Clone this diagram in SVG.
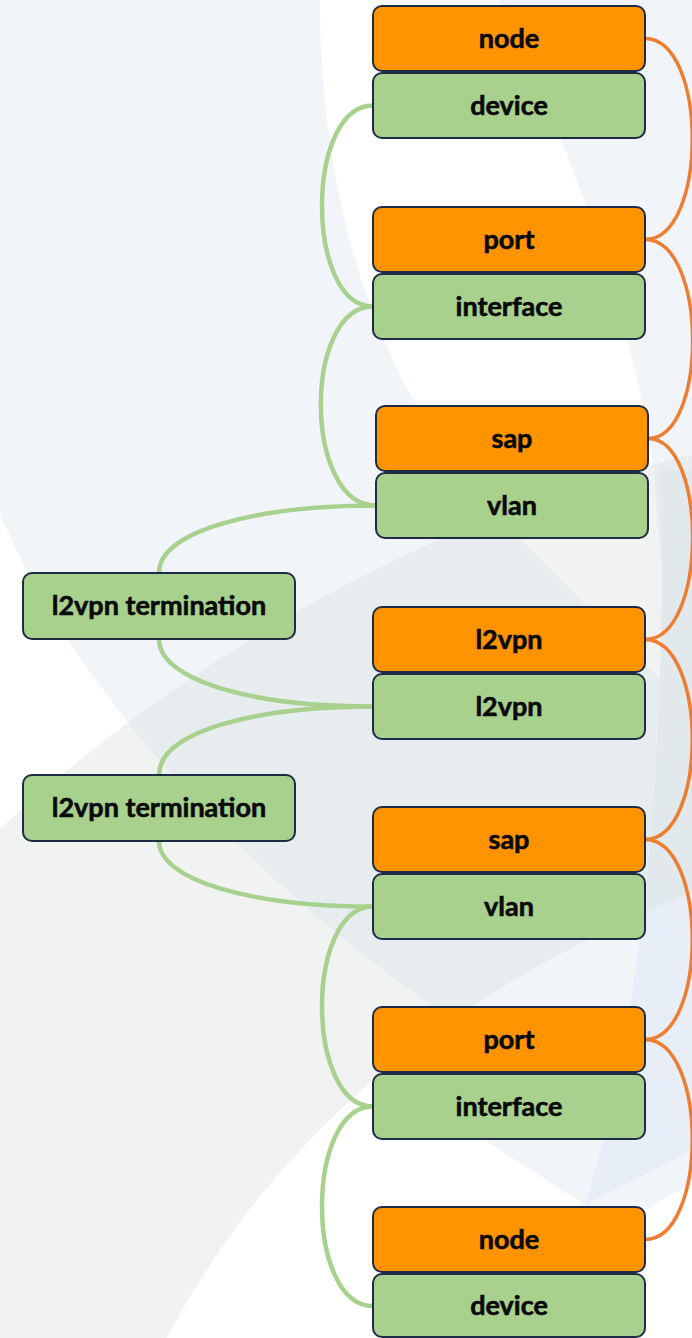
<svg xmlns="http://www.w3.org/2000/svg" width="692" height="1338" viewBox="0 0 692 1338">
<style>
.bg-blue{fill:#f1f5fa}
.bg-white{fill:#ffffff}
.bg-swoosh{fill:#d9e2df;fill-opacity:0.4}
.bg-right{fill:#e7eef7}
.box{stroke:#1e2b45;stroke-width:2}
.orange{fill:#ff9300}
.green{fill:#a9d18e}
.lbl{font-family:Lato,"Liberation Sans",Arial,sans-serif;font-weight:700;font-size:27px;fill:#0a0a0a;stroke:#0a0a0a;stroke-width:0.6;text-anchor:middle}
.cg{fill:none;stroke:#a9d18e;stroke-width:4.5}
.co{fill:none;stroke:#ed7d31;stroke-width:3.5}
</style>
<g id="background">
<rect class="bg-blue" x="0" y="0" width="692" height="1338"/>
<path class="bg-white" d="M320,0 L499,0 C560,125 630,300 653,466 C662,560 668,640 672,690 C640,660 612,632 587,606 C520,540 460,480 419,410 C360,310 320,170 320,0 Z"/>
<path class="bg-white" d="M0,513 C70,685 250,880 430,1004 C405,1020 385,1045 371,1067 L582,1203 L556,1338 L0,1338 Z"/>
<path class="bg-white" d="M600,1338 L640,1215 C660,1200 680,1190 692,1185 L692,1338 Z"/>
<path class="bg-right" d="M660,470 C668,700 650,1000 585,1205 L692,1150 L692,470 Z"/>
<path class="bg-swoosh" d="M0,829 C150,690 400,520 692,455 L692,893 C400,1010 250,1180 167,1338 L0,1338 Z"/>
</g>
<g id="connectors">
<path class="cg" d="M373,105.5 C305,105.5 305,306.5 373,306.5"/>
<path class="cg" d="M373,306.5 C303,306.5 303,505.5 376,505.5"/>
<path class="cg" d="M376,505.5 C260,505.5 159,530 159,573"/>
<path class="cg" d="M159,639 C159,680 250,706.5 373,706.5"/>
<path class="cg" d="M373,706.5 C260,706.5 159,730 159,775"/>
<path class="cg" d="M159,841 C159,880 250,906.5 373,906.5"/>
<path class="cg" d="M373,906.5 C305,906.5 305,1106.5 373,1106.5"/>
<path class="cg" d="M373,1106.5 C305,1106.5 305,1306 373,1306"/>
<path class="co" d="M645,38.5 C708,38.5 708,239.5 645,239.5"/>
<path class="co" d="M645,239.5 C708,239.5 708,438.5 648,438.5"/>
<path class="co" d="M648,438.5 C708,438.5 708,639.5 645,639.5"/>
<path class="co" d="M645,639.5 C708,639.5 708,839.5 645,839.5"/>
<path class="co" d="M645,839.5 C708,839.5 708,1039.5 645,1039.5"/>
<path class="co" d="M645,1039.5 C708,1039.5 708,1239.5 645,1239.5"/>
</g>
<g id="node-node-top"><rect class="box orange" x="373" y="6" width="272" height="65" rx="9"/><text class="lbl" x="509" y="47.5">node</text></g>
<g id="node-device-top"><rect class="box green" x="373" y="73" width="272" height="65" rx="9"/><text class="lbl" x="509" y="114.5">device</text></g>
<g id="node-port-top"><rect class="box orange" x="373" y="207" width="272" height="65" rx="9"/><text class="lbl" x="509" y="248.5">port</text></g>
<g id="node-interface-top"><rect class="box green" x="373" y="274" width="272" height="65" rx="9"/><text class="lbl" x="509" y="315.5">interface</text></g>
<g id="node-sap-top"><rect class="box orange" x="376" y="406" width="272" height="65" rx="9"/><text class="lbl" x="512" y="447.5">sap</text></g>
<g id="node-vlan-top"><rect class="box green" x="376" y="473" width="272" height="65" rx="9"/><text class="lbl" x="512" y="514.5">vlan</text></g>
<g id="node-l2vpn-orange"><rect class="box orange" x="373" y="607" width="272" height="65" rx="9"/><text class="lbl" x="509" y="648.5">l2vpn</text></g>
<g id="node-l2vpn-green"><rect class="box green" x="373" y="674" width="272" height="65" rx="9"/><text class="lbl" x="509" y="715.5">l2vpn</text></g>
<g id="node-sap-bottom"><rect class="box orange" x="373" y="807" width="272" height="65" rx="9"/><text class="lbl" x="509" y="848.5">sap</text></g>
<g id="node-vlan-bottom"><rect class="box green" x="373" y="874" width="272" height="65" rx="9"/><text class="lbl" x="509" y="915.5">vlan</text></g>
<g id="node-port-bottom"><rect class="box orange" x="373" y="1007" width="272" height="65" rx="9"/><text class="lbl" x="509" y="1048.5">port</text></g>
<g id="node-interface-bottom"><rect class="box green" x="373" y="1074" width="272" height="65" rx="9"/><text class="lbl" x="509" y="1115.5">interface</text></g>
<g id="node-node-bottom"><rect class="box orange" x="373" y="1207" width="272" height="65" rx="9"/><text class="lbl" x="509" y="1248.5">node</text></g>
<g id="node-device-bottom"><rect class="box green" x="373" y="1274" width="272" height="63" rx="9"/><text class="lbl" x="509" y="1314.5">device</text></g>
<g id="node-l2vpn-termination-1"><rect class="box green" x="23" y="573" width="272" height="66" rx="9"/><text class="lbl" x="159" y="615">l2vpn termination</text></g>
<g id="node-l2vpn-termination-2"><rect class="box green" x="23" y="775" width="272" height="66" rx="9"/><text class="lbl" x="159" y="817">l2vpn termination</text></g>
</svg>
